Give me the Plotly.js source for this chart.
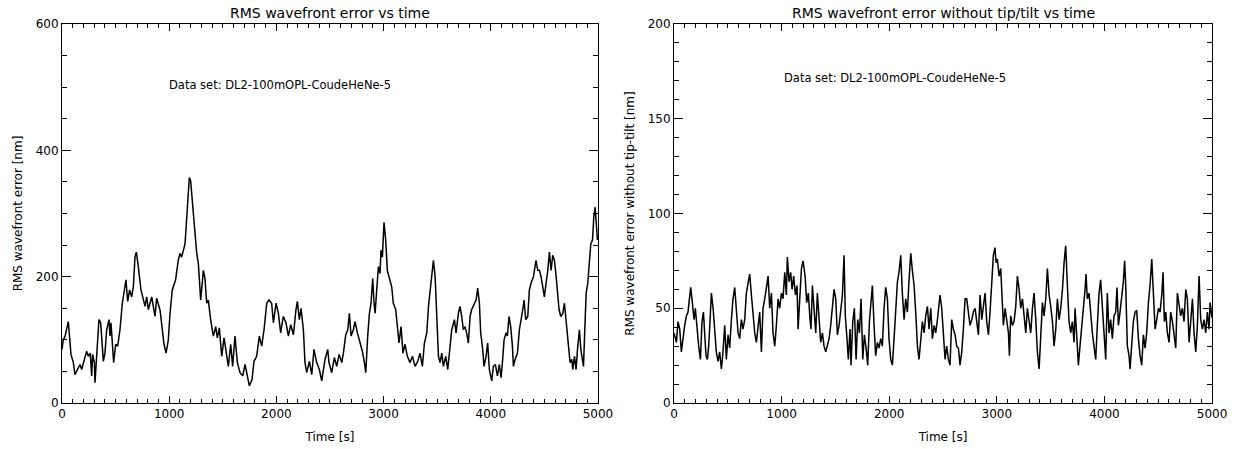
<!DOCTYPE html>
<html>
<head>
<meta charset="utf-8">
<script src="https://cdn.plot.ly/plotly-3.0.1.min.js"></script>
<style>html,body{margin:0;padding:0;background:#fff;}#chart{width:1237px;height:449px;}</style>
</head>
<body>
<div id="chart"></div>
<script>
// ---- Left panel: RMS wavefront error [nm] vs time [s] ----
const leftTime = [
0,12,28,44,59,84,106,121,146,168,184,208,230,246,264,277,286,302,308,345,361,386,401,417,439,448,457,482,501,520,541,563,588,597,613,631,650,666,681,694,712,737,775,790,806,837,868,883,915,930,952,971,992,1008,1029,1060,1085,1101,1116,1148,1173,1188,1200,
1219,1241,1257,1272,1294,1319,1334,1350,1365,1387,1412,1434,1449,1468,1490,1512,1537,1552,1574,1592,1614,1636,1661,1686,1708,1729,1748,1773,1791,1816,1841,1863,1885,1910,1931,1956,1972,1997,2019,2040,2065,2090,2112,2134,2159,2183,2196,2214,2230,2252,2267,2283,2308,2330,2351,2376,2401,2423,2445,
2454,2479,2491,2516,2541,2563,2585,2610,2625,2647,2666,2681,2697,2718,2734,2756,2780,2802,2821,2834,2852,2868,2883,2899,2911,2921,2936,2952,2967,2976,2989,3004,3020,3035,3051,3076,3091,3113,3132,3144,3163,3181,3200,3222,3247,3269,3294,3319,3340,3362,3381,3403,3419,3437,3450,3465,3481,3496,3512,3527,3543,3558,3580,3599,3620,3636,3661,3676,3698,
3713,3729,3744,3760,3775,3791,3807,3822,3844,3863,3878,3894,3906,3925,3937,3956,3971,3987,4009,4024,4043,4062,4080,4096,4111,4124,4142,4155,4170,4186,4202,4211,4227,4249,4267,4283,4298,4311,4326,4345,4360,4376,4398,4422,4438,4454,4469,4485,4500,4516,4532,4547,4563,4578,4594,4610,4622,4637,4653,4672,4687,4703,4715,4728,4740,4756,4765,4781,4796,4809,4827,4840,4852,4865,4877,4890,4905,4921,4933,4949,4961,4974,4983,4995
];
const leftRms = [
85,100,105,121,129,77,64,45,53,61,53,69,82,74,79,43,77,64,32,132,127,66,79,116,132,106,127,64,93,90,116,158,184,195,161,179,168,184,231,239,216,179,153,168,148,168,137,166,147,121,93,79,100,142,179,195,226,237,231,252,310,357,352,
310,258,237,221,163,210,197,158,163,132,106,121,103,119,74,103,69,58,93,58,106,64,48,43,61,43,27,37,66,74,106,90,116,158,163,158,127,158,142,111,137,127,106,124,108,148,161,132,150,116,64,48,66,45,85,64,53,35,58,
69,85,64,48,72,58,77,64,79,108,116,142,106,116,129,111,95,82,64,48,106,142,158,197,158,142,179,216,205,242,231,286,258,210,200,184,158,148,116,95,121,79,93,74,64,74,58,66,79,58,95,111,153,179,205,226,200,137,74,64,79,58,74,53,85,116,132,111,142,
153,137,116,121,111,95,137,148,156,163,182,158,111,85,58,74,95,53,35,58,61,43,61,40,69,100,111,106,137,121,90,58,69,79,116,137,148,163,132,137,179,190,200,226,210,210,200,184,168,190,210,239,210,234,226,200,179,148,137,142,158,132,111,85,64,69,53,74,53,85,116,85,74,58,116,174,190,221,252,258,294,310,284,258
];

// ---- Right panel: RMS wavefront error without tip-tilt [nm] vs time [s] ----
const rightTime = [
0,22,37,53,68,84,99,115,130,139,155,170,186,198,217,229,245,260,273,285,297,310,322,335,347,363,378,393,409,424,440,455,471,486,502,517,533,548,564,579,595,610,626,641,657,672,688,703,719,734,750,765,781,796,812,827,843,858,874,889,905,920,936,951,967,982,998,1013,1029,1044,1053,1069,1084,1097,1112,1128,1143,1153,1168,1184,1199,
1218,1233,1248,1264,1273,1286,1301,1317,1332,1348,1363,1379,1394,1410,1425,1441,1456,1472,1487,1503,1518,1534,1549,1565,1580,1592,1605,1620,1636,1645,1661,1676,1692,1707,1723,1738,1754,1769,1785,1800,1816,1831,1843,1859,1874,1890,1905,1921,1936,1952,1967,1983,1998,2014,2029,2045,2060,2076,2091,2107,2122,2138,2153,2169,2184,2200,2215,2231,2246,2262,2277,2293,2308,2324,2339,2355,2370,2386,2401,2417,2432,2448,2463,
2472,2488,2503,2519,2534,2550,2565,2581,2596,2612,2627,2643,2658,2674,2689,2705,2720,2736,2751,2767,2782,2798,2813,2829,2844,2860,2875,2891,2906,2922,2937,2953,2968,2983,2993,3005,3021,3036,3049,3061,3077,3092,3108,3117,3129,3145,3160,3176,3191,3207,3222,3238,3253,3269,3284,3300,3315,3331,3346,3362,3377,3393,3408,3424,3439,3455,3470,3486,3501,3517,3532,3548,3563,3579,3594,3610,3625,3640,3656,3671,3687,3702,3718,
3727,3742,3758,3773,3789,3804,3820,3829,3841,3857,3872,3888,3903,3919,3934,3950,3965,3981,3996,4012,4027,4043,4058,4074,4089,4105,4117,4130,4145,4161,4176,4188,4198,4213,4229,4238,4254,4269,4285,4300,4316,4331,4347,4362,4378,4393,4409,4424,4440,4455,4471,4486,4502,4517,4533,4545,4557,4570,4585,4601,4616,4632,4647,4663,4678,4694,4709,4725,4740,4756,4771,4787,4802,4818,4833,4849,4864,4880,4895,4911,4926,4942,4957,4973,4982,5000
];
const rightRms = [
37,32,43,39,27,36,41,46,48,53,61,53,44,50,37,30,23,43,48,37,25,23,30,44,58,50,37,27,22,27,18,27,41,23,36,29,44,55,61,50,37,34,44,39,44,58,64,68,57,46,37,32,39,48,27,50,55,62,67,50,58,37,30,41,55,50,58,55,69,57,77,64,69,60,67,57,62,39,55,71,75,
67,53,58,44,39,62,50,37,58,46,32,37,30,27,30,34,41,51,60,55,36,41,50,57,78,46,36,23,39,20,43,50,23,44,37,55,23,36,29,20,43,55,62,41,25,32,29,34,30,50,61,55,34,23,20,34,51,64,69,78,58,44,55,48,65,79,70,62,48,30,23,34,43,37,46,51,39,50,34,41,37,44,51,
57,50,39,23,30,23,20,44,39,36,30,29,20,27,39,55,55,46,41,44,48,50,43,36,57,44,51,58,43,36,48,64,78,82,74,76,67,71,55,41,50,44,37,25,46,41,43,51,67,60,50,55,46,37,50,44,37,50,58,44,27,18,37,53,46,55,71,57,51,43,30,39,55,44,50,60,74,83,62,43,37,43,32,
50,36,20,30,39,51,60,68,55,58,46,37,30,23,41,58,65,51,43,23,58,37,44,34,46,48,61,41,48,55,64,75,62,30,25,18,30,43,48,49,34,25,20,36,29,37,53,62,76,58,39,44,50,48,57,69,43,48,37,32,48,43,37,29,58,50,46,50,43,60,55,32,44,55,37,27,41,67,44,39,44,37,48,39,53,45
];

const xTickVals = [0, 1000, 2000, 3000, 4000, 5000];
const leftYTicks = [0, 200, 400, 600];
const rightYTicks = [0, 50, 100, 150, 200];
const dataSetLabel = 'Data set: DL2-100mOPL-CoudeHeNe-5';

const FONT = 'DejaVu Sans, Arial, sans-serif';

function xAxis(domain, anchor) {
  return {
    domain: domain, anchor: anchor, range: [0, 5000],
    tickvals: xTickVals, ticktext: xTickVals.map(String),
    ticks: 'inside', ticklen: 7, tickwidth: 1, tickcolor: '#000',
    minor: {ticks: 'inside', ticklen: 4, dtick: 100, tickcolor: '#000', tickwidth: 1, showgrid: false},
    showline: true, linecolor: '#000', linewidth: 1, mirror: 'allticks',
    showgrid: false, zeroline: false,
    tickfont: {family: FONT, size: 12, color: '#000'},
    title: {text: 'Time [s]', font: {family: FONT, size: 12, color: '#000'}, standoff: 12},
    fixedrange: true
  };
}
function yAxis(domain, anchor, range, ticks, dminor, title) {
  return {
    domain: domain, anchor: anchor, range: range,
    tickvals: ticks, ticktext: ticks.map(String),
    ticks: 'inside', ticklen: 9, tickwidth: 1, tickcolor: '#000',
    minor: {ticks: 'inside', ticklen: 5, dtick: dminor, tickcolor: '#000', tickwidth: 1, showgrid: false},
    showline: true, linecolor: '#000', linewidth: 1, mirror: 'allticks',
    showgrid: false, zeroline: false,
    tickfont: {family: FONT, size: 12, color: '#000'},
    title: {text: title, font: {family: FONT, size: 12, color: '#000'}, standoff: 10},
    fixedrange: true
  };
}

const yDom = [0.1024, 0.9465];
const traces = [
  {x: leftTime, y: leftRms, xaxis: 'x', yaxis: 'y', type: 'scatter', mode: 'lines',
   line: {color: '#000', width: 1.5}, hoverinfo: 'skip', showlegend: false},
  {x: rightTime, y: rightRms, xaxis: 'x2', yaxis: 'y2', type: 'scatter', mode: 'lines',
   line: {color: '#000', width: 1.5}, hoverinfo: 'skip', showlegend: false}
];

const layout = {
  width: 1237, height: 449,
  margin: {l: 0, r: 0, t: 0, b: 0},
  paper_bgcolor: '#fff', plot_bgcolor: '#fff',
  font: {family: FONT, color: '#000'},
  xaxis: xAxis([0.0501, 0.4834], 'y'),
  yaxis: yAxis(yDom, 'x', [0, 600], leftYTicks, 50, 'RMS wavefront error [nm]'),
  xaxis2: xAxis([0.5449, 0.9798], 'y2'),
  yaxis2: yAxis(yDom, 'x2', [0, 200], rightYTicks, 10, 'RMS wavefront error without tip-tilt [nm]'),
  annotations: [
    {text: 'RMS wavefront error vs time', xref: 'paper', yref: 'paper',
     x: (0.0501 + 0.4834) / 2, y: 0.972, xanchor: 'center', yanchor: 'middle',
     showarrow: false, font: {family: FONT, size: 14, color: '#000'}},
    {text: 'RMS wavefront error without tip/tilt vs time', xref: 'paper', yref: 'paper',
     x: (0.5449 + 0.9798) / 2, y: 0.972, xanchor: 'center', yanchor: 'middle',
     showarrow: false, font: {family: FONT, size: 14, color: '#000'}},
    {text: dataSetLabel, xref: 'x', yref: 'y', x: 980, y: 503,
     xanchor: 'left', yanchor: 'middle', showarrow: false,
     font: {family: FONT, size: 11.5, color: '#000'}},
    {text: dataSetLabel, xref: 'x2', yref: 'y2', x: 1005, y: 171.5,
     xanchor: 'left', yanchor: 'middle', showarrow: false,
     font: {family: FONT, size: 11.5, color: '#000'}}
  ]
};

Plotly.newPlot('chart', traces, layout, {staticPlot: true, displayModeBar: false});
</script>
</body>
</html>
